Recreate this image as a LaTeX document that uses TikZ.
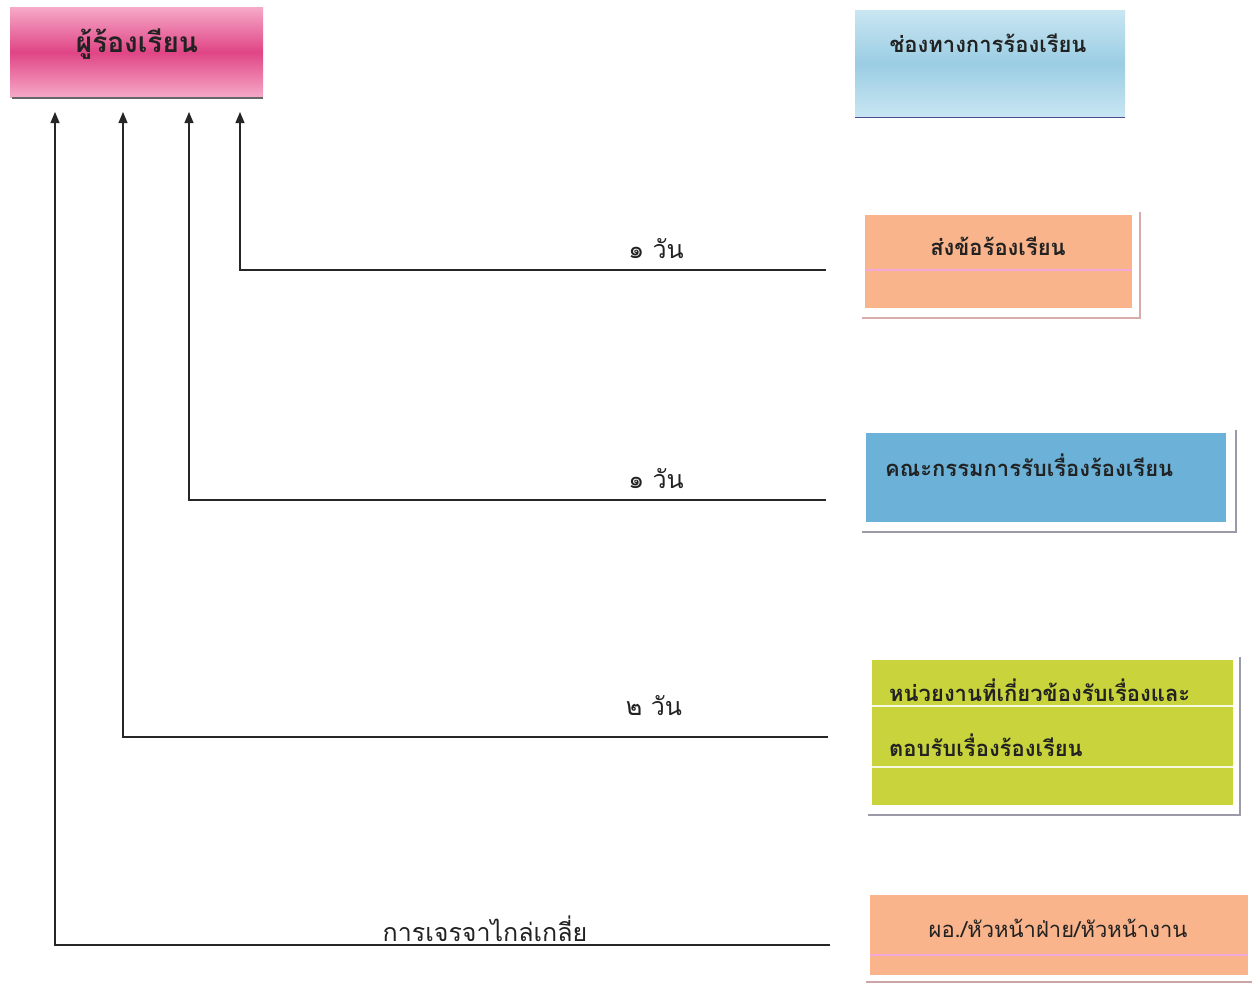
\documentclass[tikz,border=0pt]{standalone}
\usepackage{fontspec}
\newfontfamily\thaifont[Script=Thai]{Loma}
\usetikzlibrary{arrows.meta,calc}
\definecolor{pinkA}{HTML}{F6A9C8}
\definecolor{pinkB}{HTML}{E04585}
\definecolor{blueA}{HTML}{C9E6F2}
\definecolor{blueB}{HTML}{9BCDE3}
\definecolor{salmon}{HTML}{F9B48C}
\definecolor{blueC}{HTML}{6CB2D8}
\definecolor{olive}{HTML}{C9D43C}
\definecolor{txt}{HTML}{222222}
\definecolor{frame}{HTML}{9A9AA8}
\definecolor{pinkline}{HTML}{F2A8D8}
\tikzset{
  box/.style={rectangle, draw=none, anchor=north west, inner sep=0pt},
  boxtext/.style={font=\thaifont\bfseries\fontsize{22}{26}\selectfont, text=txt, inner sep=0pt},
  lbl/.style={font=\thaifont\fontsize{25}{28}\selectfont, text=txt, inner sep=0pt},
  conn/.style={draw=black!85, line width=1.1pt, -{Triangle[length=11pt,width=9pt]}},
  shadowline/.style={draw=frame, line width=1.2pt},
}
\begin{document}
\begin{tikzpicture}[x=1pt,y=-1pt]
\useasboundingbox (0,0) rectangle (1258,985);
\fill[white] (0,0) rectangle (1258,985);

% top-left box
\node[box, minimum width=253pt, minimum height=90pt, top color=pinkA, bottom color=pinkA, middle color=pinkB] (src) at (10,7) {};
\draw[draw=black!60, line width=2pt] ($(src.south west)+(2,1)$) -- ($(src.south east)+(0,1)$);
\node[boxtext, font=\thaifont\bfseries\fontsize{28}{32}\selectfont] (srct) at (137,44) {ผู้ร้องเรียน};

% channel box
\node[box, minimum width=270pt, minimum height=107pt, top color=blueA, bottom color=blueA, middle color=blueB] (chan) at (855,10) {};
\draw[draw=blue!40!black!70, line width=1.8pt] (chan.south west) -- (chan.south east);
\node[boxtext] (chant) at (988,43) {ช่องทางการร้องเรียน};

% send complaint box
\node[box, minimum width=267pt, minimum height=93pt, fill=salmon] (send) at (865,215) {};
\draw[pinkline, line width=2pt] (865,270) -- (1132,270);
\draw[draw=pink!70!gray, line width=1.2pt] (862,318) -- (1140,318) -- (1140,212);
\node[boxtext] (sendt) at (998,246) {ส่งข้อร้องเรียน};

% committee box
\node[box, minimum width=360pt, minimum height=89pt, fill=blueC] (comm) at (866,433) {};
\draw[shadowline] (862,532) -- (1236,532) -- (1236,430);
\node[boxtext, anchor=west] (commt) at (885,465) {คณะกรรมการรับเรื่องร้องเรียน};

% unit box
\node[box, minimum width=361pt, minimum height=145pt, fill=olive] (unit) at (872,660) {};
\draw[white!85!olive, line width=1.8pt] (872,706) -- (1233,706);
\draw[white!85!olive, line width=1.8pt] (872,767) -- (1233,767);
\draw[shadowline] (868,815) -- (1240,815) -- (1240,657);
\node[boxtext, anchor=west] (unitt1) at (889,690) {หน่วยงานที่เกี่ยวข้องรับเรื่องและ};
\node[boxtext, anchor=west] (unitt2) at (889,745) {ตอบรับเรื่องร้องเรียน};

% director box
\node[box, minimum width=378pt, minimum height=80pt, fill=salmon] (dir) at (870,895) {};
\draw[pinkline, line width=2pt] (870,955) -- (1248,955);
\draw[draw=pink!60!gray, line width=1.2pt] (866,982) -- (1252,982);
\node[boxtext, font=\thaifont\fontsize{22}{26}\selectfont] (dirt) at (1058,928) {ผอ./หัวหน้าฝ่าย/หัวหน้างาน};

% connector coordinates
\coordinate (e1) at (826,270);
\coordinate (e2) at (826,500);
\coordinate (e3) at (828,737);
\coordinate (e4) at (830,945);
\coordinate (t1) at (240,112);
\coordinate (t2) at (189,112);
\coordinate (t3) at (123,112);
\coordinate (t4) at (55,112);

\draw[conn] (e1) -- (240,270) -- (t1);
\draw[conn] (e2) -- (189,500) -- (t2);
\draw[conn] (e3) -- (123,737) -- (t3);
\draw[conn] (e4) -- (55,945) -- (t4);

\node[lbl] (l1) at (656,249) {๑ วัน};
\node[lbl] (l2) at (656,479) {๑ วัน};
\node[lbl] (l3) at (654,706) {๒ วัน};
\node[lbl] (l4) at (485,929) {การเจรจาไกล่เกลี่ย};
\end{tikzpicture}
\end{document}
